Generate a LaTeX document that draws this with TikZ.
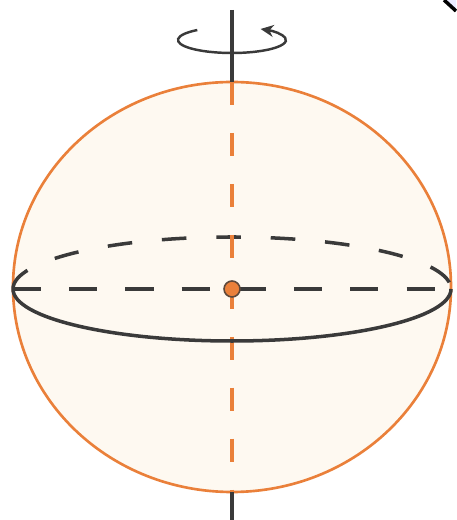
\documentclass[tikz,border=0pt]{standalone}
\usetikzlibrary{arrows.meta}
\definecolor{sphorange}{RGB}{234,128,58}
\definecolor{sphfill}{RGB}{254,249,241}
\definecolor{ink}{RGB}{58,58,58}
\tikzset{
  shell/.style={draw=sphorange, line width=1.5pt, fill=sphfill},
  axisline/.style={draw=ink, line width=2pt},
  axisdash/.style={draw=sphorange, line width=2.1pt, dash pattern=on 13pt off 16pt},
  eqfront/.style={draw=ink, line width=2pt},
  eqback/.style={draw=ink, line width=2pt, dash pattern=on 14pt off 17pt},
  diam/.style={draw=ink, line width=2pt, dash pattern=on 16pt off 16pt},
  spin/.style={draw=ink, line width=1.4pt, -{Stealth[length=2.6mm, width=2.4mm]}},
}

\begin{document}
\begin{tikzpicture}[x=0.02cm, y=0.02cm,
    dot/.style={circle, draw=ink!80!sphorange, fill=sphorange, line width=0.9pt, minimum size=0.32cm, inner sep=0pt}]
  \useasboundingbox (0,0) rectangle (456,520);
  \coordinate (o) at (232,231);
  \coordinate (w) at (13,231);
  \coordinate (e) at (451,231);
  \coordinate (n) at (232,438);
  \coordinate (s) at (232,28);
  \coordinate (top) at (232,510);
  \coordinate (bot) at (232,0);
  \coordinate (spinc) at (232,480);

  \fill[blue!8] (444,520) -- (456,509) -- (456,520) -- cycle;
  \draw[line width=2pt] (444,520) -- (456,509);

  \filldraw[shell] (232,233) ellipse [x radius=219, y radius=205];
  \draw[eqback] (w) arc[start angle=180, end angle=0, x radius=219, y radius=52];
  \draw[diam] (w) -- (e);
  \draw[axisline] (top) -- (n);
  \draw[axisdash] (n) -- (s);
  \draw[axisline] (s) -- (bot);
  \draw[eqfront] (w) arc[start angle=180, end angle=360, x radius=219, y radius=52];
  \draw[spin] ([shift={(130:54 and 13)}]spinc) arc[start angle=130, end angle=418, x radius=54, y radius=13];
  \node[dot] (c) at (o) {};
\end{tikzpicture}
\end{document}
